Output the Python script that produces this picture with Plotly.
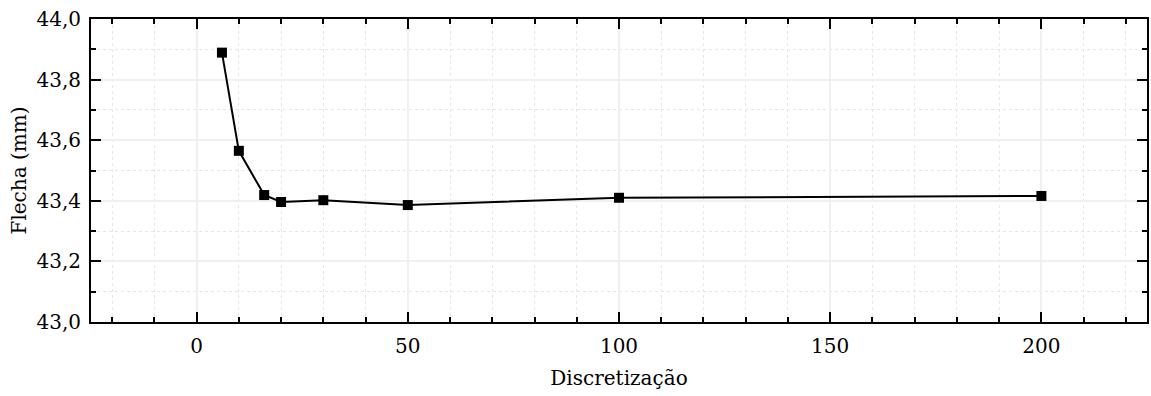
import plotly.graph_objects as go

discretizacao = [6, 10, 16, 20, 30, 50, 100, 200]
flecha_mm = [43.889, 43.565, 43.419, 43.396, 43.402, 43.386, 43.410, 43.416]

x_ticks = [0, 50, 100, 150, 200]
y_ticks = [43.0, 43.2, 43.4, 43.6, 43.8, 44.0]

font_family = "DejaVu Serif"

fig = go.Figure()
fig.add_trace(go.Scatter(
    x=discretizacao, y=flecha_mm, mode="lines+markers",
    line=dict(color="black", width=2),
    marker=dict(symbol="square", size=10, color="black"),
    showlegend=False,
))

axis_common = dict(
    showline=True, linecolor="black", linewidth=2, mirror="allticks",
    ticks="inside", ticklen=10, tickwidth=2, tickcolor="black",
    showgrid=True, gridcolor="#f0f0f0", gridwidth=1.5,
    zeroline=False,
    tickfont=dict(family=font_family, size=20, color="black"),
)

fig.update_xaxes(
    **axis_common,
    range=[-25, 225], tickvals=x_ticks, ticklabelstandoff=5,
    minor=dict(dtick=10, tick0=0, ticks="inside", ticklen=5, tickwidth=2, tickcolor="black",
               showgrid=True, gridcolor="#e6e6e6", griddash="dot", gridwidth=1),
    title=dict(text="Discretização", font=dict(family=font_family, size=20, color="black"), standoff=14),
)
fig.update_yaxes(
    **axis_common,
    range=[43.0, 44.0], tickvals=y_ticks, tickformat=".1f", ticklabelstandoff=4,
    minor=dict(dtick=0.1, tick0=43.0, ticks="inside", ticklen=5, tickwidth=2, tickcolor="black",
               showgrid=True, gridcolor="#e6e6e6", griddash="dot", gridwidth=1),
    title=dict(text="Flecha (mm)", font=dict(family=font_family, size=20, color="black"), standoff=4),
)

fig.update_layout(
    width=1151, height=396,
    margin=dict(l=91, r=2, t=19, b=74),
    plot_bgcolor="white", paper_bgcolor="white",
    separators=",.",
    font=dict(family=font_family, color="black"),
)

fig.write_html("out.html")
